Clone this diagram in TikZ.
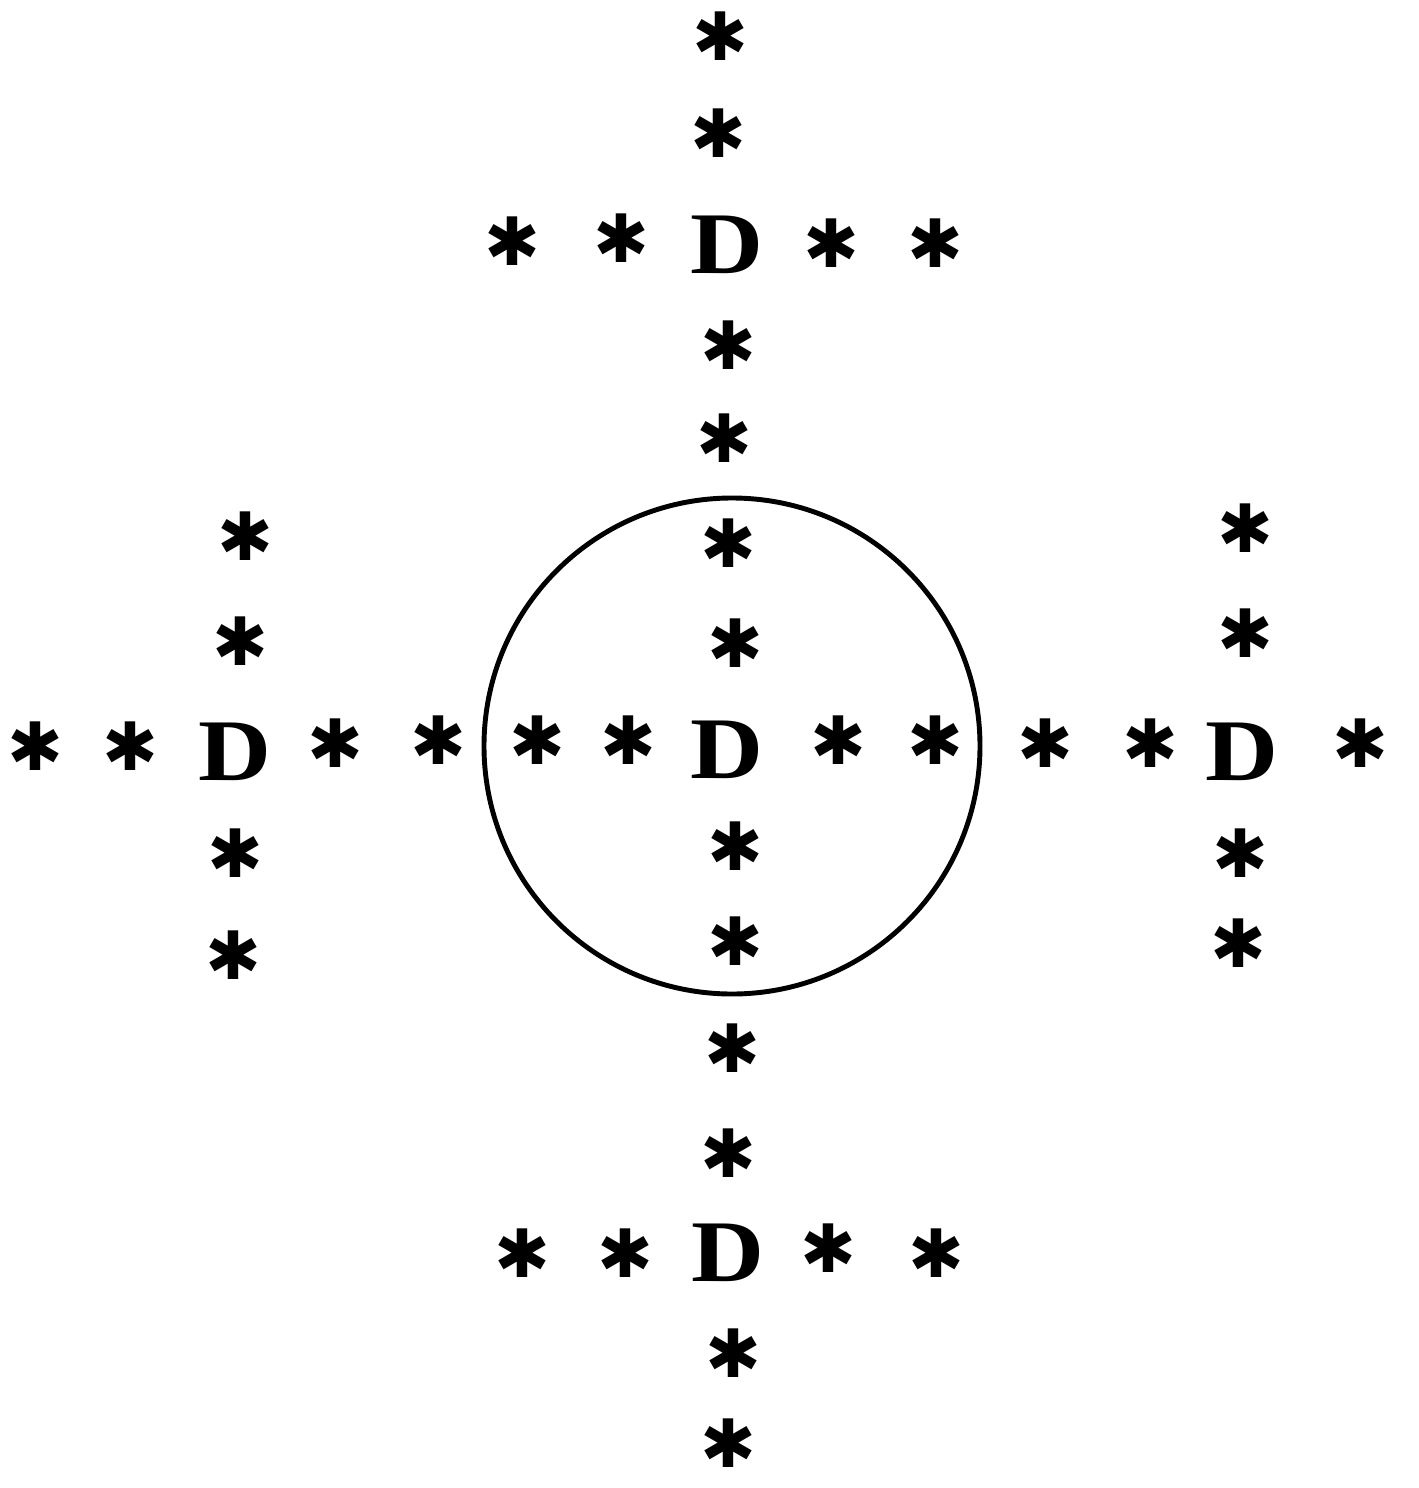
\documentclass[tikz,border=0pt]{standalone}
\usepackage{fontspec}
\newfontfamily\starfont{DejaVu Sans}
\newfontfamily\dfont{Liberation Serif}
\begin{document}
\begin{tikzpicture}[x=0.02cm,y=-0.02cm,
  letter/.style={inner sep=0pt,font=\dfont\bfseries\fontsize{50}{50}\selectfont,xscale=1.15,transform shape},
  astr/.style={inner sep=0pt,font=\starfont\fontsize{38}{38}\selectfont}]
\useasboundingbox (0,0) rectangle (1419,1488);
\draw[line width=2.8pt] (732,746) circle[radius=248];
% D letters
\node[letter] (dc) at (727,750) {D};
\node[letter] (dt) at (727,245) {D};
\node[letter] (db) at (728,1253) {D};
\node[letter] (dl) at (235,752) {D};
\node[letter] (dr) at (1242,752) {D};
% vertical column
\foreach \n/\px/\py in {v1/720/36, v2/718/133, v3/728/345, v4/724/438, v5/728/543, v6/735/643,
  v7/735/846, v8/735/941, v9/732/1048, v10/728/1153, v11/733/1353, v12/728/1443}
  \node[astr] (\n) at (\px,\py) {✱};
% top row
\foreach \n/\px/\py in {t1/512/241, t2/621/238, t3/831/243, t4/935/243}
  \node[astr] (\n) at (\px,\py) {✱};
% bottom row
\foreach \n/\px/\py in {b1/522/1253, b2/625/1253, b3/828/1248, b4/936/1253}
  \node[astr] (\n) at (\px,\py) {✱};
% middle row
\foreach \n/\px/\py in {h1/35/746, h2/130/746, h3/335/743, h4/438/740, h5/537/740, h6/628/740,
  h7/838/740, h8/935/740, h9/1045/743, h10/1150/743, h11/1360/743}
  \node[astr] (\n) at (\px,\py) {✱};
% left column
\foreach \n/\px/\py in {l1/245/536, l2/240/641, l3/235/853, l4/233/955}
  \node[astr] (\n) at (\px,\py) {✱};
% right column
\foreach \n/\px/\py in {r1/1245/528, r2/1245/633, r3/1240/853, r4/1238/943}
  \node[astr] (\n) at (\px,\py) {✱};
\end{tikzpicture}
\end{document}
